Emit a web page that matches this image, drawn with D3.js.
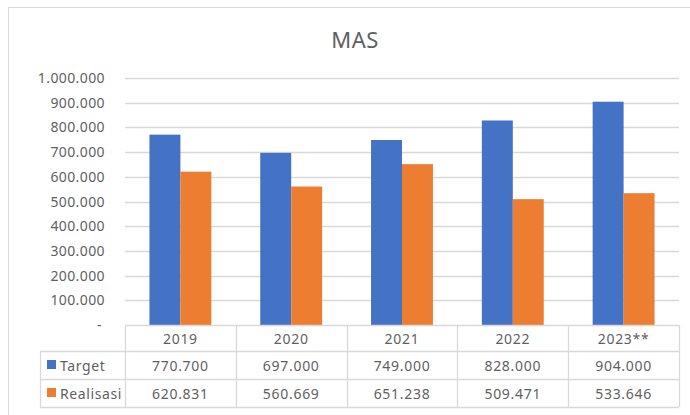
<!DOCTYPE html>
<html>
<head>
<meta charset="utf-8">
<script src="https://cdn.jsdelivr.net/npm/d3@7"></script>
<style>
  body { margin: 0; background: #fff; }
  text { font-family: "Noto Sans", "Open Sans", sans-serif; fill: #5f5f5f; }
</style>
</head>
<body>
<div id="chart"></div>
<script>
const years = ["2019", "2020", "2021", "2022", "2023**"];
const seriesNames = ["Target", "Realisasi"];
const target = [770700, 697000, 749000, 828000, 904000];
const realisasi = [620831, 560669, 651238, 509471, 533646];
const yTicks = [0, 100000, 200000, 300000, 400000, 500000, 600000, 700000, 800000, 900000, 1000000];
const colors = ["#4472C4", "#ED7D31"];

const width = 690, height = 415;
const margin = { top: 78, right: 11, left: 125, bottom: 90 };
const plotBottom = 325;
const rowH = [26, 28, 28];

const svg = d3.select("#chart").append("svg")
    .attr("width", width)
    .attr("height", height);

// outer chart border
svg.append("rect")
    .attr("x", 8.5).attr("y", 7.5)
    .attr("width", 720).attr("height", 430)
    .attr("fill", "none").attr("stroke", "#d9d9d9");

svg.append("text")
    .attr("x", 355).attr("y", 48)
    .attr("text-anchor", "middle")
    .style("font-size", "22px")
    .style("letter-spacing", "0.5px")
    .text("MAS");

const x = d3.scaleBand()
    .domain(years)
    .range([margin.left, width - margin.right]);

const xInner = d3.scaleBand()
    .domain(seriesNames)
    .range([0, x.bandwidth()])
    .paddingInner(0)
    .paddingOuter(0.79);

const y = d3.scaleLinear()
    .domain([0, 1000000])
    .range([plotBottom, margin.top]);

const fmt = v => v === 0 ? "-" : d3.format(",")(v).replace(/,/g, ".");

// gridlines
svg.append("g")
    .selectAll("line")
    .data(yTicks.filter(d => d > 0))
    .enter().append("line")
    .attr("x1", margin.left).attr("x2", width - margin.right)
    .attr("y1", d => Math.round(y(d)) + 0.5).attr("y2", d => Math.round(y(d)) + 0.5)
    .attr("stroke", "#d9d9d9").attr("stroke-width", 1.3);

// y labels
svg.append("g")
    .selectAll("text")
    .data(yTicks)
    .enter().append("text")
    .attr("x", d => d === 0 ? 102 : 105)
    .attr("y", d => y(d) + 5)
    .attr("text-anchor", "end")
    .style("font-size", "14px")
    .style("letter-spacing", "0.4px")
    .text(fmt);

const data = years.map((yr, i) => ({ year: yr, values: [target[i], realisasi[i]] }));

const groups = svg.selectAll(".yr")
    .data(data)
    .enter().append("g")
    .attr("class", "yr")
    .attr("transform", d => `translate(${x(d.year)},0)`);

groups.selectAll("rect")
    .data(d => d.values.map((v, j) => ({ name: seriesNames[j], v, j })))
    .enter().append("rect")
    .attr("x", d => xInner(d.name))
    .attr("width", xInner.bandwidth())
    .attr("y", d => y(d.v))
    .attr("height", d => plotBottom - y(d.v))
    .attr("fill", d => colors[d.j]);

// data table
const tableLeft = 40;
const rowTops = [plotBottom, plotBottom + rowH[0], plotBottom + rowH[0] + rowH[1]];
const tableBottom = rowTops[2] + rowH[2];
const grid = svg.append("g").attr("stroke", "#d9d9d9").attr("stroke-width", 1.3);

grid.append("line").attr("x1", margin.left).attr("x2", width - margin.right)
    .attr("y1", plotBottom + 0.5).attr("y2", plotBottom + 0.5);
[rowTops[1], rowTops[2], tableBottom].forEach(yy => {
    grid.append("line").attr("x1", tableLeft).attr("x2", width - margin.right)
        .attr("y1", yy + 0.5).attr("y2", yy + 0.5);
});
grid.append("line").attr("x1", tableLeft + 0.5).attr("x2", tableLeft + 0.5)
    .attr("y1", rowTops[1]).attr("y2", tableBottom);
years.forEach(yr => {
    const xx = Math.round(x(yr)) + 0.5;
    grid.append("line").attr("x1", xx).attr("x2", xx).attr("y1", plotBottom).attr("y2", tableBottom);
});
grid.append("line").attr("x1", width - margin.right + 0.5).attr("x2", width - margin.right + 0.5)
    .attr("y1", plotBottom).attr("y2", tableBottom);

const cellText = (xx, yy, t, anchor) => svg.append("text")
    .attr("x", xx).attr("y", yy)
    .attr("text-anchor", anchor || "middle")
    .style("font-size", "14px")
    .style("letter-spacing", "0.7px")
    .text(t);

years.forEach((yr, i) => {
    const cx = x(yr) + x.bandwidth() / 2;
    cellText(cx, rowTops[0] + 18.5, yr);
    cellText(cx, rowTops[1] + 19.5, fmt(target[i]));
    cellText(cx, rowTops[2] + 19.5, fmt(realisasi[i]));
});

seriesNames.forEach((s, j) => {
    svg.append("rect")
        .attr("x", 47).attr("y", rowTops[j + 1] + 9)
        .attr("width", 9).attr("height", 9)
        .attr("fill", colors[j]);
    cellText(60, rowTops[j + 1] + 19.5, s, "start").style("letter-spacing", "0.6px");
});
</script>
</body>
</html>
